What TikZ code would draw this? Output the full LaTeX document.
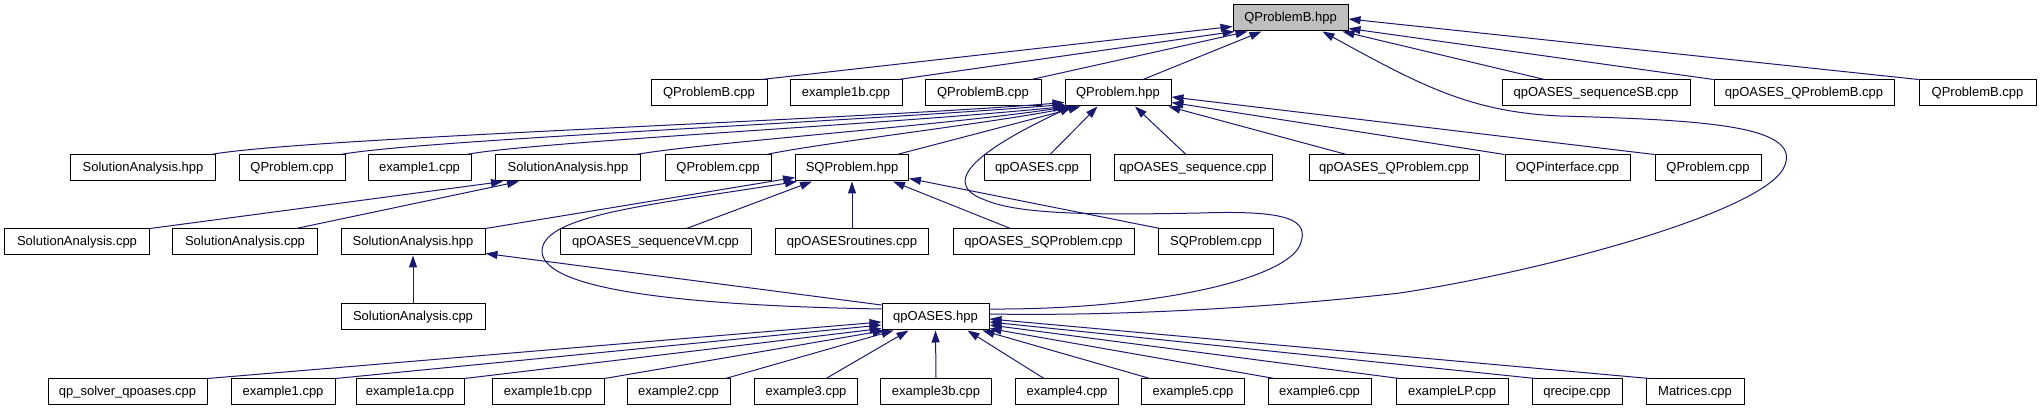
\documentclass[tikz,border=0pt]{standalone}
\usepackage{fontspec}
\setmainfont{Liberation Sans}
\usetikzlibrary{arrows.meta,calc}
\definecolor{edgeblue}{HTML}{191970}
\definecolor{rootgray}{HTML}{BFBFBF}
\begin{document}
\begin{tikzpicture}[x=1pt,y=-1pt,
  box/.style={draw=black, line width=1pt, fill=white, minimum height=26pt, inner sep=0pt, font=\fontsize{13}{15}\selectfont, anchor=center},
  rootbox/.style={box, fill=rootgray},
  edge/.style={draw=edgeblue, line width=1pt, -{Triangle[length=12pt,width=8pt]}},
]
\useasboundingbox[fill=white] (0,0) rectangle (2040,411);
% row 0
\node[rootbox, minimum width=115] (QB) at (1290.5,18) {QProblemB.hpp};
% row 1
\node[box, minimum width=116] (r1a) at (709,93) {QProblemB.cpp};
\node[box, minimum width=112] (ex1bA) at (846,93) {example1b.cpp};
\node[box, minimum width=116] (r1b) at (983,93) {QProblemB.cpp};
\node[box, minimum width=106] (QP) at (1118,93) {QProblem.hpp};
\node[box, minimum width=188] (seqSB) at (1596,93) {qpOASES\_sequenceSB.cpp};
\node[box, minimum width=180] (qpQB) at (1804,93) {qpOASES\_QProblemB.cpp};
\node[box, minimum width=117] (r1c) at (1977.5,93) {QProblemB.cpp};
% row 2
\node[box, minimum width=145] (SAhA) at (143,168) {SolutionAnalysis.hpp};
\node[box, minimum width=106] (QPcA) at (292,168) {QProblem.cpp};
\node[box, minimum width=103] (exA) at (419.5,168) {example1.cpp};
\node[box, minimum width=145] (SAhB) at (568,168) {SolutionAnalysis.hpp};
\node[box, minimum width=106] (QPcB) at (718,168) {QProblem.cpp};
\node[box, minimum width=113] (SQ) at (852,168) {SQProblem.hpp};
\node[box, minimum width=106] (qpc) at (1037,168) {qpOASES.cpp};
\node[box, minimum width=158] (qpseq) at (1193,168) {qpOASES\_sequence.cpp};
\node[box, minimum width=170] (qpQP) at (1394,168) {qpOASES\_QProblem.cpp};
\node[box, minimum width=125] (OQP) at (1567.5,168) {OQPinterface.cpp};
\node[box, minimum width=106] (QPcC) at (1708,168) {QProblem.cpp};
% row 3
\node[box, minimum width=145] (SAcA) at (77,242) {SolutionAnalysis.cpp};
\node[box, minimum width=145] (SAcB) at (245,242) {SolutionAnalysis.cpp};
\node[box, minimum width=144] (SAhC) at (413,242) {SolutionAnalysis.hpp};
\node[box, minimum width=191] (seqVM) at (655.5,242) {qpOASES\_sequenceVM.cpp};
\node[box, minimum width=153] (qpr) at (852,242) {qpOASESroutines.cpp};
\node[box, minimum width=181] (qpSQ) at (1043.5,242) {qpOASES\_SQProblem.cpp};
\node[box, minimum width=115] (SQc) at (1216,242) {SQProblem.cpp};
% row 4
\node[box, minimum width=144] (SAcC) at (413,317) {SolutionAnalysis.cpp};
\node[box, minimum width=107] (qph) at (935.5,317) {qpOASES.hpp};
% row 5
\node[box, minimum width=159] (qps) at (127.5,392) {qp\_solver\_qpoases.cpp};
\node[box, minimum width=104] (e1) at (283,392) {example1.cpp};
\node[box, minimum width=108] (e1a) at (410,392) {example1a.cpp};
\node[box, minimum width=112] (e1b) at (548,392) {example1b.cpp};
\node[box, minimum width=103] (e2) at (678.5,392) {example2.cpp};
\node[box, minimum width=103] (e3) at (806,392) {example3.cpp};
\node[box, minimum width=111] (e3b) at (936,392) {example3b.cpp};
\node[box, minimum width=103] (e4) at (1067,392) {example4.cpp};
\node[box, minimum width=103] (e5) at (1193,392) {example5.cpp};
\node[box, minimum width=103] (e6) at (1319.5,392) {example6.cpp};
\node[box, minimum width=112] (eLP) at (1452,392) {exampleLP.cpp};
\node[box, minimum width=90] (qrec) at (1577,392) {qrecipe.cpp};
\node[box, minimum width=98] (mat) at (1695,392) {Matrices.cpp};

% edges to QProblemB.hpp
\draw[edge] ($(r1a.north east)+(-6,0)$) -- ($(QB.south west)+(0,-5)$);
\draw[edge] ($(ex1bA.north east)+(-4,0)$) -- ($(QB.south west)+(2,0)$);
\draw[edge] ($(r1b.north east)+(-10,0)$) -- ($(QB.south west)+(15,0)$);
\draw[edge] ($(QP.north)+(25,0)$) -- ($(QB.south west)+(29,0)$);
\draw[edge] ($(seqSB.north west)+(43,0)$) -- ($(QB.south east)+(-6,0)$);
\draw[edge] (qpQB.north west) -- ($(QB.south east)+(0,-3)$);
\draw[edge] (r1c.north west) -- ($(QB.east)+(0,1)$);
\draw[edge] ($(qph.east)+(0,-3)$) .. controls (1100,316) and (1250,310) .. (1400,293)
  .. controls (1550,270) and (1770,210) .. (1785,165)
  .. controls (1800,125) and (1700,120) .. (1560,116)
  .. controls (1470,112) and (1420,85) .. ($(QB.south east)+(-26,0)$);

% edges to QProblem.hpp
\draw[edge] ($(SAhA.north east)+(-5,0)$) .. controls (300,138) and (850,120) .. ($(QP.south west)+(0,-4)$);
\draw[edge] ($(QPcA.north east)+(-5,0)$) .. controls (420,140) and (850,122) .. ($(QP.south west)+(0,-2)$);
\draw[edge] ($(exA.north east)+(-5,0)$) .. controls (530,142) and (880,125) .. ($(QP.south west)+(1,0)$);
\draw[edge] ($(SAhB.north east)+(-5,0)$) .. controls (700,143) and (950,125) .. ($(QP.south west)+(5,0)$);
\draw[edge] ($(QPcB.north east)+(-5,0)$) .. controls (820,143) and (1000,122) .. ($(QP.south west)+(10,0)$);
\draw[edge] ($(SQ.north east)+(-12,0)$) -- ($(QP.south west)+(16,0)$);
\draw[edge] ($(qph.east)+(0,-8)$) .. controls (1150,310) and (1285,280) .. (1300,245)
  .. controls (1310,220) and (1290,210) .. (1200,213)
  .. controls (1100,215) and (1020,215) .. (985,200)
  .. controls (930,180) and (1000,140) .. ($(QP.south west)+(7,0)$);
\draw[edge] ($(qpc.north)+(13,0)$) -- ($(QP.south west)+(33,0)$);
\draw[edge] ($(qpseq.north)+(-7,0)$) -- ($(QP.south)+(17,0)$);
\draw[edge] ($(qpQP.north west)+(38,0)$) -- ($(QP.south east)+(-3,0)$);
\draw[edge] (OQP.north west) -- ($(QP.south east)+(0,-4)$);
\draw[edge] (QPcC.north west) -- ($(QP.east)+(0,4)$);

% edges to SolutionAnalysis.hpp (row 2)
\draw[edge] (SAcA.north east) -- ($(SAhB.south west)+(8,0)$);
\draw[edge] ($(SAcB.north east)+(-22,0)$) -- ($(SAhB.south west)+(24,0)$);

% edges to SQProblem.hpp
\draw[edge] (SAhC.north east) -- ($(SQ.south west)+(0,-4)$);
\draw[edge] ($(qph.west)+(0,-8)$) .. controls (650,305) and (540,285) .. (542,250)
  .. controls (545,215) and (650,205) .. ($(SQ.south west)+(2,0)$);
\draw[edge] ($(seqVM.north east)+(-65,0)$) -- ($(SQ.south west)+(17,0)$);
\draw[edge] (qpr.north) -- (SQ.south);
\draw[edge] ($(qpSQ.north west)+(58,0)$) -- ($(SQ.south east)+(-16,0)$);
\draw[edge] ($(SQc.north west)+(2,0)$) -- ($(SQ.south east)+(0,-3)$);

% edges to SolutionAnalysis.hpp (row 3)
\draw[edge] (SAcC.north) -- (SAhC.south);
\draw[edge] ($(qph.west)+(0,-12)$) -- ($(SAhC.south east)+(0,-2)$);

% edges to qpOASES.hpp
\draw[edge] (qps.north east) -- ($(qph.west)+(0,5)$);
\draw[edge] (e1.north east) -- ($(qph.west)+(0,8)$);
\draw[edge] (e1a.north east) -- ($(qph.south west)+(0,-2)$);
\draw[edge] (e1b.north east) -- ($(qph.south west)+(3,0)$);
\draw[edge] ($(e2.north east)+(-5,0)$) -- ($(qph.south west)+(12,0)$);
\draw[edge] ($(e3.north east)+(-32,0)$) -- ($(qph.south west)+(27,0)$);
\draw[edge] (e3b.north) -- (qph.south);
\draw[edge] ($(e4.north west)+(29,0)$) -- ($(qph.south east)+(-22,0)$);
\draw[edge] ($(e5.north west)+(9,0)$) -- ($(qph.south east)+(-7,0)$);
\draw[edge] ($(e6.north west)+(7,0)$) -- ($(qph.south east)+(0,-2)$);
\draw[edge] ($(eLP.north west)+(4,0)$) -- ($(qph.east)+(0,8)$);
\draw[edge] ($(qrec.north west)+(4,0)$) -- ($(qph.east)+(0,5)$);
\draw[edge] ($(mat.north west)+(4,0)$) -- ($(qph.east)+(0,2)$);
\end{tikzpicture}
\end{document}
